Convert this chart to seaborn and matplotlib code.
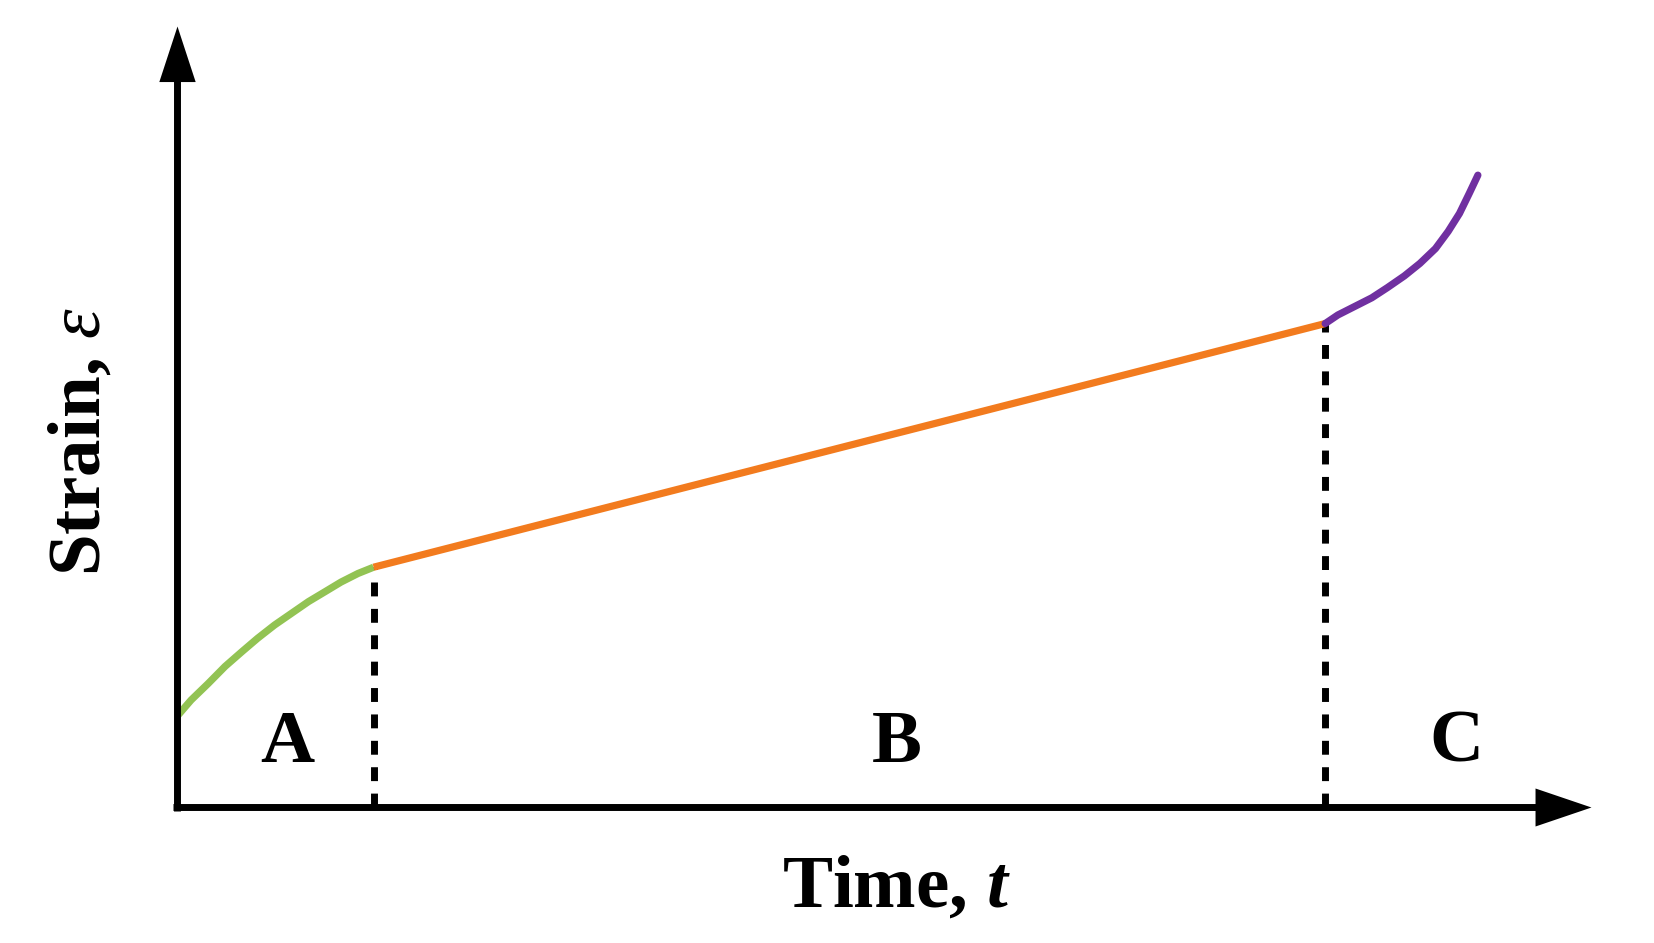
import matplotlib
matplotlib.use('Agg')
import numpy as np
import matplotlib.pyplot as plt
import seaborn as sns

# creep curve (time, strain in arbitrary units 0..10)
primary_t = [0.0, 0.10, 0.22, 0.34, 0.46, 0.57, 0.69, 0.81, 0.93, 1.05, 1.16, 1.28, 1.39]
primary_e = [1.16, 1.37, 1.58, 1.80, 1.99, 2.16, 2.33, 2.48, 2.63, 2.76, 2.88, 2.99, 3.07]
secondary_t = [1.39, 8.12]
secondary_e = [3.07, 6.19]
tertiary_t = [8.12, 8.21, 8.33, 8.45, 8.56, 8.68, 8.79, 8.90, 8.99, 9.07, 9.14, 9.20]
tertiary_e = [6.19, 6.30, 6.41, 6.52, 6.65, 6.80, 6.96, 7.15, 7.37, 7.60, 7.86, 8.09]
stages = ['A', 'B', 'C']

sns.set_theme(style="white")
plt.rcParams['font.family'] = ['Liberation Serif', 'DejaVu Serif']
plt.rcParams['text.color'] = 'black'
plt.rcParams['mathtext.fontset'] = 'custom'
plt.rcParams['mathtext.it'] = 'Liberation Serif:italic:bold'
plt.rcParams['mathtext.rm'] = 'Liberation Serif:italic'

fig = plt.figure(figsize=(16.54, 9.43), dpi=100)
ax = fig.add_axes([0.10701, 0.14422, 0.85490, 0.82821])
ax.set_xlim(0, 10)
ax.set_ylim(0, 10)
ax.axis('off')

lw = 5.2
sns.lineplot(x=primary_t, y=primary_e, color='#92C353', lw=lw, ax=ax,
             estimator=None, solid_capstyle='butt', solid_joinstyle='round', zorder=3)
sns.lineplot(x=secondary_t, y=secondary_e, color='#F27B1E', lw=lw, ax=ax,
             estimator=None, solid_capstyle='butt', zorder=3)
sns.lineplot(x=tertiary_t, y=tertiary_e, color='#7030A0', lw=lw, ax=ax,
             estimator=None, solid_capstyle='round', solid_joinstyle='round', zorder=3)

# stage boundaries
for xb, yb in [(primary_t[-1], primary_e[-1]), (tertiary_t[0], tertiary_e[0])]:
    ax.plot([xb, xb], [0, yb], color='black', lw=5, dashes=(2.0, 1.8),
            zorder=2, clip_on=False)

# axes with arrow heads
ax.plot([0, 0], [-0.045, 9.4], color='black', lw=5, zorder=4, clip_on=False,
        solid_capstyle='butt')
ax.plot([-0.025, 9.7], [0, 0], color='black', lw=5, zorder=4, clip_on=False,
        solid_capstyle='butt')
ax.plot([0], [10], marker=[(-18, -55), (18, -55), (0, 0)], ms=80, mew=0,
        color='black', clip_on=False, zorder=5)
ax.plot([10], [0], marker=[(-56, -19), (-56, 19), (0, 0)], ms=80.6, mew=0,
        color='black', clip_on=False, zorder=5)

for name, xs in zip(stages, [0.78, 5.09, 9.05]):
    ax.text(xs, 0.58, name, ha='center', va='baseline', fontsize=54,
            fontweight='bold')

fig.text(0.542, 0.0382, 'Time, $t$', ha='center', va='baseline',
         fontsize=54, fontweight='bold')
fig.text(0.0605, 0.532, r'Strain, $\mathrm{\varepsilon}$', ha='center',
         va='baseline', rotation=90, rotation_mode='anchor',
         fontsize=54, fontweight='bold')

plt.savefig('out.png', dpi=100)
